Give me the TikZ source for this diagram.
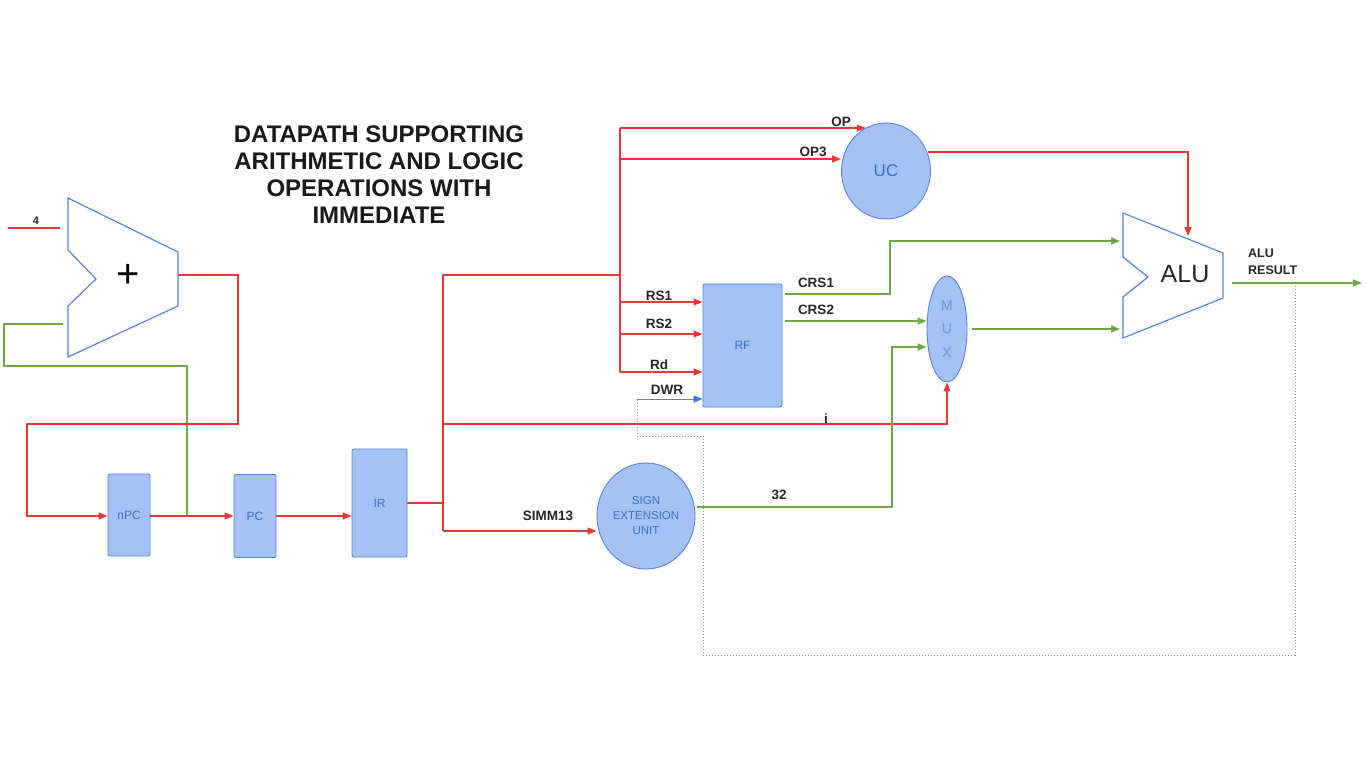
\documentclass[tikz,border=0pt]{standalone}
\usepackage{fontspec}
\setmainfont{Liberation Sans}
\usetikzlibrary{arrows.meta,shapes.geometric,calc}
\definecolor{wred}{RGB}{229,57,53}
\definecolor{wgreen}{RGB}{112,168,72}
\definecolor{boxfill}{RGB}{164,194,244}
\definecolor{boxdraw}{RGB}{90,130,215}
\definecolor{boxtext}{RGB}{60,110,200}
\definecolor{dwrblue}{RGB}{50,120,230}
\definecolor{muxtext}{RGB}{100,150,230}
\definecolor{dotgray}{RGB}{140,140,140}
\begin{document}
\begin{tikzpicture}[x=1pt,y=-1pt,
 redline/.style={draw=wred, line width=1.5pt},
 greenline/.style={draw=wgreen, line width=1.6pt},
 arr/.style={-{Triangle[length=9pt,width=7pt]}},
 unit/.style={draw=boxdraw, fill=boxfill, line width=0.9pt, rounded corners=2pt, inner sep=0pt, font=\fontsize{12}{14}\selectfont, text=boxtext},
 oval/.style={ellipse, draw=boxdraw, fill=boxfill, line width=0.9pt, inner sep=0pt, text=boxtext},
 lbl/.style={font=\bfseries\fontsize{13.5}{15}\selectfont, text=black!85, inner sep=0pt},
 dotline/.style={draw=dotgray, dotted, line width=1pt},
 opshape/.style={draw=boxdraw, fill=white, line width=1.2pt, line join=miter}
]
\useasboundingbox[fill=white] (0,0) rectangle (1366,768);

% title
\node[align=center, font=\bfseries\fontsize{24}{27}\selectfont, text=black!90] (title) at (379,175)
 {DATAPATH SUPPORTING\\ARITHMETIC AND LOGIC\\OPERATIONS WITH\\IMMEDIATE};

% adder
\draw[opshape] (68,198) -- (178,252) -- (178,306) -- (68,357) -- (68,306) -- (96,279) -- (68,250) -- cycle;
\node[font=\fontsize{40}{40}\selectfont, inner sep=0pt] (plus) at (128,276) {+};
\coordinate (adderOut) at (178,275);
\coordinate (adderIn1) at (60,228);
\coordinate (adderIn2) at (63,324);
\coordinate (fourStart) at (8,228);

% ALU
\draw[opshape] (1123,213) -- (1223,253) -- (1223,298) -- (1123,338) -- (1123,297) -- (1148,277) -- (1123,257) -- cycle;
\node[font=\fontsize{25}{25}\selectfont, inner sep=0pt, text=black!85] (alulbl) at (1185,274) {ALU};
\coordinate (aluIn1) at (1120,241);
\coordinate (aluIn2) at (1120,329);
\coordinate (aluOut) at (1232,283);
\coordinate (aluCtl) at (1188,236);
\coordinate (resEnd) at (1362,283);

% units
\node[unit, minimum width=42pt, minimum height=82pt] (nPC) at (129,515) {nPC};
\node[unit, minimum width=42pt, minimum height=83pt] (PC) at (255,516) {PC};
\node[unit, minimum width=55pt, minimum height=108pt] (IR) at (379.5,503) {IR};
\node[unit, minimum width=79pt, minimum height=123pt] (RF) at (742.5,345.5) {RF};
\node[oval, minimum width=89pt, minimum height=96pt, font=\fontsize{17}{17}\selectfont] (UC) at (886,171) {UC};
\node[oval, minimum width=98pt, minimum height=106pt, align=center, font=\fontsize{11.5}{15}\selectfont] (SEU) at (646,516) {SIGN\\EXTENSION\\UNIT};
\node[oval, minimum width=40pt, minimum height=106pt, align=center, text=muxtext, font=\fontsize{14}{23.5}\selectfont] (MUX) at (947,329) {M\\U\\X};

% 4 input
\draw[redline] (fourStart) -- (adderIn1);
\node[lbl, font=\bfseries\fontsize{11}{13}\selectfont] at (36,221) {4};

% green feedback to adder
\coordinate (pcTap) at (187,516);
\draw[greenline] (pcTap) -- (187,366) -- (4,366) -- (4,324) -- (adderIn2);

% adder output to nPC
\draw[redline, arr] (adderOut) -- (238,275) -- (238,424) -- (27,424) -- (27,516) -- (27,516 -| nPC.west);
\draw[redline, arr] (nPC.east |- pcTap) -- (PC.west);
\draw[redline, arr] (PC.east) -- (PC.east -| IR.west);

% IR fan-out
\coordinate (irBus) at (443,503);
\coordinate (busTop) at (443,275);
\coordinate (busBot) at (443,531);
\coordinate (iTap) at (443,424);
\draw[redline] (IR.east) -- (irBus);
\draw[redline] (620,275) -- (busTop) -- (busBot);
\draw[redline, arr] (busBot) -- (busBot -| SEU.west);
\node[lbl] at (548,516) {SIMM13};
\draw[redline, arr] (iTap) -- (iTap -| MUX.south) -- (MUX.south);
\node[lbl] at (826,419) {i};

% instruction field bus
\coordinate (opTap) at (620,128);
\coordinate (op3Tap) at (620,159);
\coordinate (rs1Tap) at (620,302);
\coordinate (rs2Tap) at (620,334);
\coordinate (rdTap) at (620,372);
\draw[redline] (opTap) -- (rdTap);
\draw[redline, arr] (opTap) -- (opTap -| UC.115);
\draw[redline, arr] (op3Tap) -- (op3Tap -| UC.west);
\draw[redline, arr] (rs1Tap) -- (rs1Tap -| RF.west);
\draw[redline, arr] (rs2Tap) -- (rs2Tap -| RF.west);
\draw[redline, arr] (rdTap) -- (rdTap -| RF.west);
\node[lbl] at (841,122) {OP};
\node[lbl] at (813,152) {OP3};
\node[lbl] at (659,296) {RS1};
\node[lbl] at (659,324) {RS2};
\node[lbl] at (659,365) {Rd};
\node[lbl] at (667,390) {DWR};

% UC to ALU
\coordinate (ucOut) at (928,152);
\draw[redline, arr] (ucOut) -| (aluCtl);

% RF outputs
\coordinate (crs1) at (785,294);
\coordinate (crs2) at (785,321);
\draw[greenline, arr] (crs1) -- (890,294) -- (890,241) -- (aluIn1);
\draw[greenline, arr] (crs2) -- (crs2 -| MUX.west);
\node[lbl] at (816,283) {CRS1};
\node[lbl] at (816,310) {CRS2};

% sign extension to MUX
\coordinate (seuOut) at (697,507);
\coordinate (muxIn2) at (892,347);
\draw[greenline, arr] (seuOut) -- (892,507) -- (muxIn2) -- (muxIn2 -| MUX.west);
\node[lbl] at (779,495) {32};

% MUX to ALU
\draw[greenline, arr] ([xshift=5pt]MUX.east) -- (aluIn2);

% ALU result
\draw[greenline, arr] (aluOut) -- (resEnd);
\node[lbl, align=left, anchor=west, font=\bfseries\fontsize{12.5}{17}\selectfont] at (1248,262) {ALU\\RESULT};

% write-back dotted path
\coordinate (resTap) at (1295,283);
\coordinate (dwrStart) at (637,399);
\draw[dotline] (resTap) -- (1295,655) -- (703,655) -- (703,436) -- (637,436) -- (dwrStart);
\draw[draw=gray, line width=0.8pt, -{Triangle[length=9pt,width=7pt,color=dwrblue]}] (dwrStart) -- (dwrStart -| RF.west);

\end{tikzpicture}
\end{document}
